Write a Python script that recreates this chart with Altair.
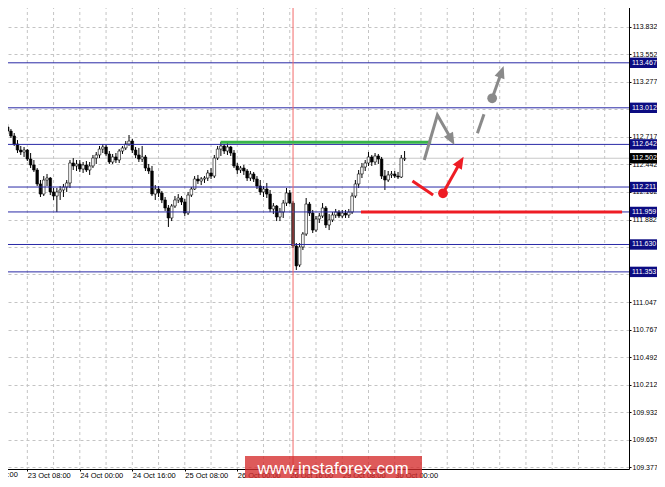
import math
import altair as alt
import pandas as pd

# ---------------- data ----------------
bar_k = list(range(-6, 116))  # hourly bars, 0 = 23 Oct 08:00
opens = [112.818, 112.777, 112.727, 112.646, 112.585, 112.565,
         112.585, 112.494, 112.434, 112.383, 112.242, 112.140, 112.282, 112.302, 112.161, 112.120,
         112.161, 112.181, 112.211, 112.252, 112.454, 112.424, 112.444, 112.393, 112.434, 112.383,
         112.424, 112.504, 112.535, 112.595, 112.616, 112.545, 112.464, 112.515, 112.484, 112.575,
         112.606, 112.646, 112.676, 112.585, 112.535, 112.494, 112.515, 112.403, 112.373, 112.140,
         112.191, 112.151, 112.080, 111.999, 111.898, 112.019, 112.080, 112.100, 112.060, 111.948,
         112.130, 112.191, 112.292, 112.272, 112.292, 112.302, 112.353, 112.322, 112.504, 112.595,
         112.626, 112.575, 112.616, 112.555, 112.424, 112.383, 112.403, 112.373, 112.302, 112.343,
         112.292, 112.221, 112.161, 112.191, 112.140, 111.989, 112.019, 111.908, 111.958, 112.049,
         112.151, 112.049, 111.615, 111.423, 111.605, 111.736, 112.039, 111.948, 111.776, 111.888,
         111.918, 111.999, 111.827, 111.878, 111.928, 111.958, 111.918, 111.948, 111.928, 111.958,
         112.120, 112.242, 112.343, 112.413, 112.454, 112.515, 112.464, 112.525, 112.494, 112.322,
         112.282, 112.333, 112.343, 112.322, 112.312, 112.494]
highs = [112.848, 112.798, 112.757, 112.686, 112.626, 112.616,
         112.595, 112.555, 112.484, 112.403, 112.282, 112.322, 112.343, 112.312, 112.201, 112.201,
         112.221, 112.242, 112.282, 112.484, 112.504, 112.484, 112.484, 112.464, 112.474, 112.464,
         112.535, 112.565, 112.626, 112.646, 112.636, 112.575, 112.545, 112.555, 112.595, 112.626,
         112.676, 112.737, 112.697, 112.616, 112.606, 112.626, 112.535, 112.444, 112.424, 112.231,
         112.221, 112.171, 112.110, 112.029, 112.039, 112.120, 112.140, 112.120, 112.090, 112.161,
         112.211, 112.322, 112.333, 112.312, 112.322, 112.383, 112.403, 112.535, 112.626, 112.666,
         112.646, 112.666, 112.626, 112.585, 112.454, 112.424, 112.434, 112.393, 112.373, 112.363,
         112.322, 112.282, 112.221, 112.252, 112.181, 112.049, 112.029, 111.999, 112.080, 112.201,
         112.181, 112.070, 111.645, 111.645, 111.756, 112.100, 112.060, 111.979, 111.918, 111.948,
         112.049, 112.019, 111.938, 111.958, 111.989, 111.979, 111.979, 111.979, 111.989, 112.151,
         112.282, 112.383, 112.454, 112.484, 112.565, 112.535, 112.555, 112.545, 112.515, 112.383,
         112.373, 112.373, 112.373, 112.363, 112.535, 112.575]
lows = [112.747, 112.707, 112.626, 112.555, 112.535, 112.515,
        112.474, 112.403, 112.363, 112.221, 112.110, 112.120, 112.221, 112.130, 112.080, 111.958,
        112.080, 112.110, 112.161, 112.201, 112.383, 112.373, 112.363, 112.353, 112.363, 112.333,
        112.403, 112.444, 112.504, 112.555, 112.525, 112.444, 112.444, 112.454, 112.454, 112.545,
        112.585, 112.626, 112.555, 112.504, 112.464, 112.464, 112.373, 112.343, 112.120, 112.080,
        112.110, 112.049, 111.969, 111.807, 111.867, 111.999, 112.049, 112.029, 111.918, 111.928,
        112.110, 112.181, 112.242, 112.231, 112.252, 112.272, 112.292, 112.302, 112.484, 112.525,
        112.545, 112.535, 112.525, 112.403, 112.343, 112.353, 112.333, 112.272, 112.272, 112.262,
        112.191, 112.130, 112.110, 112.100, 111.958, 111.938, 111.867, 111.867, 111.898, 112.019,
        112.039, 111.595, 111.372, 111.402, 111.574, 111.716, 111.918, 111.746, 111.756, 111.847,
        111.898, 111.797, 111.776, 111.857, 111.898, 111.898, 111.898, 111.898, 111.898, 111.938,
        112.100, 112.201, 112.302, 112.373, 112.424, 112.424, 112.434, 112.444, 112.292, 112.181,
        112.262, 112.302, 112.302, 112.292, 112.302, 112.474]
closes = [112.777, 112.727, 112.646, 112.585, 112.565, 112.585,
          112.494, 112.434, 112.383, 112.242, 112.140, 112.282, 112.302, 112.161, 112.120, 112.161,
          112.181, 112.211, 112.252, 112.454, 112.424, 112.444, 112.393, 112.434, 112.383, 112.424,
          112.504, 112.535, 112.595, 112.616, 112.545, 112.464, 112.515, 112.484, 112.575, 112.606,
          112.646, 112.676, 112.585, 112.535, 112.494, 112.515, 112.403, 112.373, 112.140, 112.191,
          112.151, 112.080, 111.999, 111.898, 112.019, 112.080, 112.100, 112.060, 111.948, 112.130,
          112.191, 112.292, 112.272, 112.292, 112.302, 112.353, 112.322, 112.504, 112.595, 112.626,
          112.575, 112.616, 112.555, 112.424, 112.383, 112.403, 112.373, 112.302, 112.343, 112.292,
          112.221, 112.161, 112.191, 112.140, 111.989, 112.019, 111.908, 111.958, 112.049, 112.151,
          112.049, 111.615, 111.413, 111.605, 111.736, 112.039, 111.948, 111.776, 111.888, 111.918,
          111.999, 111.827, 111.878, 111.928, 111.958, 111.918, 111.948, 111.928, 111.958, 112.120,
          112.242, 112.343, 112.413, 112.454, 112.515, 112.464, 112.525, 112.494, 112.322, 112.282,
          112.333, 112.343, 112.322, 112.312, 112.504, 112.502]

level_prices = [113.467, 113.012, 112.642, 112.211, 111.959, 111.630, 111.353]
bid_price = [112.502]
y_ticks = [113.832, 113.552, 113.277, 112.997, 112.717, 112.442, 112.162, 111.882,
           111.602, 111.327, 111.047, 110.767, 110.492, 110.212, 109.932, 109.657, 109.377]
hidden_ticks = [112.997, 111.602, 111.327]  # covered by the level boxes
x_label_pos = [0, 16, 32, 48, 64, 80, 96, 112]
x_labels = ["23 Oct 08:00", "24 Oct 00:00", "24 Oct 16:00", "25 Oct 08:00",
            "26 Oct 00:00", "26 Oct 16:00", "29 Oct 08:00", "30 Oct 00:00"]
first_label_pos = [-16]
first_label = ["22 Oct 16:00"]
grid_k = list(range(0, 184, 8))
vline_k = [81]

green_k = [58.9, 123.1]
green_p = 112.663
red_k = [101.7, 181.3]
red_p = 111.958

red_tail_k = [117.4, 123.7]
red_tail_p = [112.272, 112.130]
red_shaft_k = [126.7, 131.3]
red_shaft_p = [112.148, 112.422]
red_dot = [126.7, 112.148]
red_tip = [133.0, 112.518]

gray_zig_k = [121.0, 125.0, 128.6]
gray_zig_p = [112.484, 112.939, 112.732]
gray_tip1 = [130.2, 112.636]
gray_dash_k = [137.2, 139.2]
gray_dash_p = [112.754, 112.946]
gray_dot = [141.7, 113.108]
gray_shaft_k = [141.7, 144.1]
gray_shaft_p = [113.108, 113.331]
gray_tip2 = [145.2, 113.435]

watermark = "www.instaforex.com"

# ---------------- geometry / styles ----------------
W, H = 629, 469
X_DOM = [-6.81, 181.89]
Y_DOM = [109.360, 114.102]
px_k = W / (X_DOM[1] - X_DOM[0])
px_p = H / (Y_DOM[1] - Y_DOM[0])

FONT = "Liberation Sans"
LEVEL = "#2a2aa6"
BOX = "#0c0c82"
RED = "#ee1c24"
GRAY = "#8a8a8a"

xs = alt.Scale(domain=X_DOM, nice=False, zero=False)
ys = alt.Scale(domain=Y_DOM, nice=False, zero=False)

x_label_expr = "[" + ",".join(f"'{s}'" for s in x_labels) + "][round(datum.value / 16)]"
y_label_expr = ("indexof([" + ",".join(str(v) for v in hidden_ticks) +
                "], datum.value) >= 0 ? '' : format(datum.value, '.3f')")

x_axis = alt.Axis(values=x_label_pos, labelExpr=x_label_expr, grid=False, tickSize=2,
                  tickColor="black", domainColor="black", labelAlign="left",
                  labelBaseline="top", labelPadding=0, labelOverlap=False, labelFlush=False,
                  labelFont=FONT, labelFontSize=7.5, labelColor="black", title=None)
y_axis = alt.Axis(orient="right", values=y_ticks, labelExpr=y_label_expr, grid=True,
                  gridDash=[3, 3], gridColor="#c4c4c4", tickSize=2, tickColor="black",
                  domainColor="black", labelPadding=1, labelAlign="left",
                  labelBaseline="middle", labelOverlap=False, labelFont=FONT,
                  labelFontSize=7, labelColor="black", title=None)


def X(field="k"):
    return alt.X(f"{field}:Q", scale=xs, axis=x_axis)


def Y(field="p"):
    return alt.Y(f"{field}:Q", scale=ys, axis=y_axis)


candles = pd.DataFrame({"k": bar_k, "open": opens, "high": highs, "low": lows, "close": closes})

wicks = alt.Chart(candles).mark_rule(color="black", strokeWidth=1).encode(
    x=X(), y=Y("low"), y2="high:Q",
)
bodies = alt.Chart(candles).mark_bar(size=2.6, stroke="black", strokeWidth=0.6).encode(
    x=X(), y=Y("open"), y2="close:Q",
    fill=alt.condition("datum.close >= datum.open", alt.value("white"), alt.value("black")),
)

vgrid = alt.Chart(pd.DataFrame({"k": grid_k})).mark_rule(
    color="#c4c4c4", strokeDash=[3, 3], strokeWidth=1).encode(x=X())

levels_df = pd.DataFrame({"p": level_prices, "t": [f"{v:.3f}" for v in level_prices]})
levels = alt.Chart(levels_df).mark_rule(color=LEVEL, strokeWidth=1).encode(y=Y())
bid_df = pd.DataFrame({"p": bid_price, "t": [f"{v:.3f}" for v in bid_price]})
bid = alt.Chart(bid_df).mark_rule(color="#c8c8c8", strokeWidth=1).encode(y=Y())

vline = alt.Chart(pd.DataFrame({"k": vline_k})).mark_rule(
    color="#f26a6a", strokeWidth=1).encode(x=X())

green = alt.Chart(pd.DataFrame({"k": [green_k[0]], "k2": [green_k[1]], "p": [green_p]})).mark_rule(
    color="#38b54a", strokeWidth=3).encode(x=X(), x2="k2:Q", y=Y())
redh = alt.Chart(pd.DataFrame({"k": [red_k[0]], "k2": [red_k[1]], "p": [red_p]})).mark_rule(
    color=RED, strokeWidth=3).encode(x=X(), x2="k2:Q", y=Y())

rows = []


def add_seg(seg, ks, ps, color):
    for i, (kk, pp) in enumerate(zip(ks, ps)):
        rows.append({"seg": seg, "o": i, "k": kk, "p": pp, "c": color})


add_seg("rt", red_tail_k, red_tail_p, RED)
add_seg("rs", red_shaft_k, red_shaft_p, RED)
add_seg("gz", gray_zig_k, gray_zig_p, GRAY)
add_seg("gd", gray_dash_k, gray_dash_p, GRAY)
add_seg("gs", gray_shaft_k, gray_shaft_p, GRAY)
segs = alt.Chart(pd.DataFrame(rows)).mark_line(strokeWidth=3, strokeCap="butt",
                                               strokeJoin="miter").encode(
    x=X(), y=Y(), detail="seg:N", order="o:Q", color=alt.Color("c:N", scale=None))

dots = alt.Chart(pd.DataFrame({"k": [red_dot[0], gray_dot[0]], "p": [red_dot[1], gray_dot[1]],
                               "c": [RED, GRAY]})).mark_point(
    filled=True, size=95, opacity=1, strokeWidth=0).encode(
    x=X(), y=Y(), color=alt.Color("c:N", scale=None))


def head_angle(base_k, base_p, tip):
    dx = (tip[0] - base_k) * px_k
    dy = -(tip[1] - base_p) * px_p
    return math.degrees(math.atan2(dx, -dy)) % 360


heads_df = pd.DataFrame({
    "k": [red_tip[0], gray_tip1[0], gray_tip2[0]],
    "p": [red_tip[1], gray_tip1[1], gray_tip2[1]],
    "c": [RED, GRAY, GRAY],
    "a": [head_angle(red_shaft_k[-1], red_shaft_p[-1], red_tip),
          head_angle(gray_zig_k[-1], gray_zig_p[-1], gray_tip1),
          head_angle(gray_shaft_k[-1], gray_shaft_p[-1], gray_tip2)],
})
heads = alt.Chart(heads_df).mark_point(
    shape="M0,0L-0.85,2L0.85,2Z", filled=True, size=150, opacity=1, strokeWidth=0).encode(
    x=X(), y=Y(), color=alt.Color("c:N", scale=None), angle=alt.Angle("a:Q", scale=None))

one = pd.DataFrame({"t": [watermark]})
wm_rect = alt.Chart(one).mark_rect(color="#d52b2b", opacity=0.78).encode(
    x=alt.value(245), x2=alt.value(422), y=alt.value(456), y2=alt.value(488))
wm_text = alt.Chart(one).mark_text(color="white", font="Liberation Sans", fontSize=17,
                                   align="center", baseline="alphabetic").encode(
    x=alt.value(333), y=alt.value(473.5), text="t:N")

box_shape = "M-1.5,-0.52L1.5,-0.52L1.5,0.52L-1.5,0.52Z"
level_boxes = alt.Chart(levels_df).mark_point(
    shape=box_shape, filled=True, size=400, opacity=1, strokeWidth=0, color=BOX).encode(
    x=alt.value(645), y=Y())
level_text = alt.Chart(levels_df).mark_text(
    color="white", align="left", baseline="middle", font=FONT, fontSize=7).encode(
    x=alt.value(632), y=Y(), text="t:N")
bid_box = alt.Chart(bid_df).mark_point(
    shape=box_shape, filled=True, size=400, opacity=1, strokeWidth=0, color="black").encode(
    x=alt.value(645), y=Y())
bid_text = alt.Chart(bid_df).mark_text(
    color="white", align="left", baseline="middle", font=FONT, fontSize=7).encode(
    x=alt.value(632), y=Y(), text="t:N")

first = alt.Chart(pd.DataFrame({"k": first_label_pos, "t": first_label})).mark_text(
    align="left", baseline="top", font=FONT, fontSize=7.5, color="black").encode(
    x=X(), y=alt.value(471), text="t:N")

chart = alt.layer(
    vgrid, bid, wicks, bodies, levels, vline, green, redh, segs, dots, heads,
    first, wm_rect, wm_text, level_boxes, level_text, bid_box, bid_text,
).properties(
    width=W, height=H,
    autosize=alt.AutoSizeParams(type="none"),
    padding={"left": -8, "top": -8, "right": 28, "bottom": 9},
    background="white",
).configure_view(stroke=None)

chart.save("out.html", embed_options={"renderer": "svg", "actions": False})
